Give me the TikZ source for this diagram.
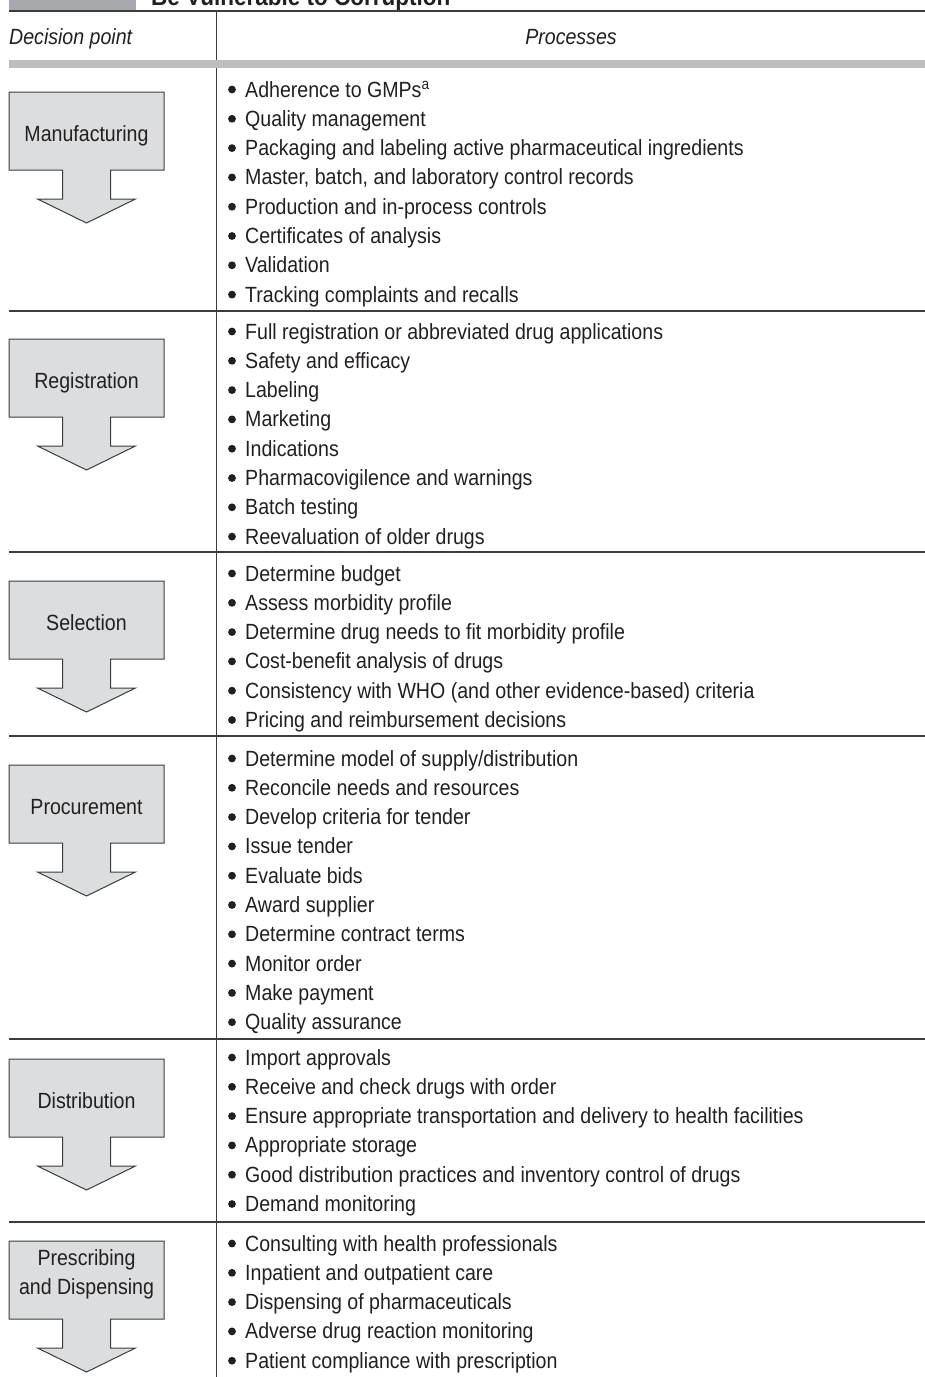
\documentclass[tikz,border=0pt]{standalone}
\usepackage{fontspec}
\setmainfont{Liberation Sans}[FakeStretch=0.89]
\newfontfamily\titlefont{Liberation Sans}[FakeStretch=0.9]
\definecolor{inkcol}{HTML}{231F20}
\definecolor{rulecol}{HTML}{3C3C3C}
\definecolor{tabcol}{HTML}{A7A9AC}
\definecolor{bandcol}{HTML}{BCBEC0}
\definecolor{boxcol}{HTML}{DCDDDE}

\tikzset{
  itemtext/.style={anchor=base west, inner sep=0pt, text=inkcol,
    font=\fontsize{22}{26}\selectfont},
  dptext/.style={anchor=base, inner sep=0pt, text=inkcol, align=center,
    font=\fontsize{22}{29}\selectfont},
  headtext/.style={anchor=base, inner sep=0pt, text=inkcol,
    font=\fontsize{22}{26}\selectfont\itshape},
  sepline/.style={draw=rulecol, line width=1.3pt},
  dparrow/.pic={
    \filldraw[fill=boxcol, draw=rulecol, line width=1pt]
      (-77.5,0) -- (77.5,0) -- (77.5,78) -- (24,78) -- (24,107)
      -- (49,107) -- (0,131) -- (-49,107) -- (-24,107) -- (-24,78)
      -- (-77.5,78) -- cycle;
  }
}

% one block of bulleted processes: row id, first baseline, items
\newcommand\processlist[3]{%
  \foreach \txt [count=\k from 0] in {#3} {
    \node[itemtext] (#1-\k) at (245,{#2+29.3*\k}) {\txt};
    \fill[inkcol] (232,{#2+29.3*\k-7.5}) circle[radius=3.9];
  }%
}

\begin{document}
\begin{tikzpicture}[x=1pt,y=-1pt]
  \useasboundingbox (0,0) rectangle (925,1377);
  \clip (0,0) rectangle (925,1377);

  % title strip
  \fill[tabcol] (9,-5) rectangle (136,10.5);
  \node[anchor=base west, inner sep=0pt, text=inkcol,
    font=\titlefont\fontsize{25}{30}\selectfont\bfseries] (title)
    at (151,5) {Be Vulnerable to Corruption};
  \draw[sepline] (9,11) -- (925,11);

  % column divider
  \draw[rulecol, line width=1.2pt] (216.5,11) -- (216.5,1377);

  % column heads
  \node[headtext, anchor=base west] (hdp) at (9,44) {Decision point};
  \node[headtext] (hpr) at (571,44) {Processes};
  \fill[bandcol] (9,60) rectangle (925,68);

  % row separators
  \foreach \yy in {311,552,736,1039,1222}
    \draw[sepline] (9,\yy) -- (925,\yy);

  % decision points
  \pic at (86.5,92) {dparrow};
  \node[dptext] (dp1) at (86.5,141) {Manufacturing};
  \pic at (86.5,339) {dparrow};
  \node[dptext] (dp2) at (86.5,388) {Registration};
  \pic at (86.5,581) {dparrow};
  \node[dptext] (dp3) at (86.5,630) {Selection};
  \pic at (86.5,765) {dparrow};
  \node[dptext] (dp4) at (86.5,814) {Procurement};
  \pic at (86.5,1059) {dparrow};
  \node[dptext] (dp5) at (86.5,1108) {Distribution};
  \pic at (86.5,1241) {dparrow};
  \node[dptext, anchor=center] (dp6) at (86.5,1274) {Prescribing\\and Dispensing};

  % processes
  \processlist{man}{97}{Adherence to GMPs\textsuperscript{a}, Quality management,
    Packaging and labeling active pharmaceutical ingredients,
    {Master, batch, and laboratory control records},
    Production and in-process controls, Certificates of analysis,
    Validation, Tracking complaints and recalls}
  \processlist{reg}{339}{Full registration or abbreviated drug applications,
    Safety and efficacy, Labeling, Marketing, Indications,
    Pharmacovigilence and warnings, Batch testing, Reevaluation of older drugs}
  \processlist{sel}{581}{Determine budget, Assess morbidity profile,
    Determine drug needs to fit morbidity profile,
    Cost-benefit analysis of drugs,
    Consistency with WHO (and other evidence-based) criteria,
    Pricing and reimbursement decisions}
  \processlist{pro}{766}{Determine model of supply/distribution,
    Reconcile needs and resources, Develop criteria for tender,
    Issue tender, Evaluate bids, Award supplier, Determine contract terms,
    Monitor order, Make payment, Quality assurance}
  \processlist{dis}{1065}{Import approvals, Receive and check drugs with order,
    Ensure appropriate transportation and delivery to health facilities,
    Appropriate storage,
    Good distribution practices and inventory control of drugs,
    Demand monitoring}
  \processlist{pre}{1251}{Consulting with health professionals,
    Inpatient and outpatient care, Dispensing of pharmaceuticals,
    Adverse drug reaction monitoring,
    Patient compliance with prescription}
\end{tikzpicture}
\end{document}
